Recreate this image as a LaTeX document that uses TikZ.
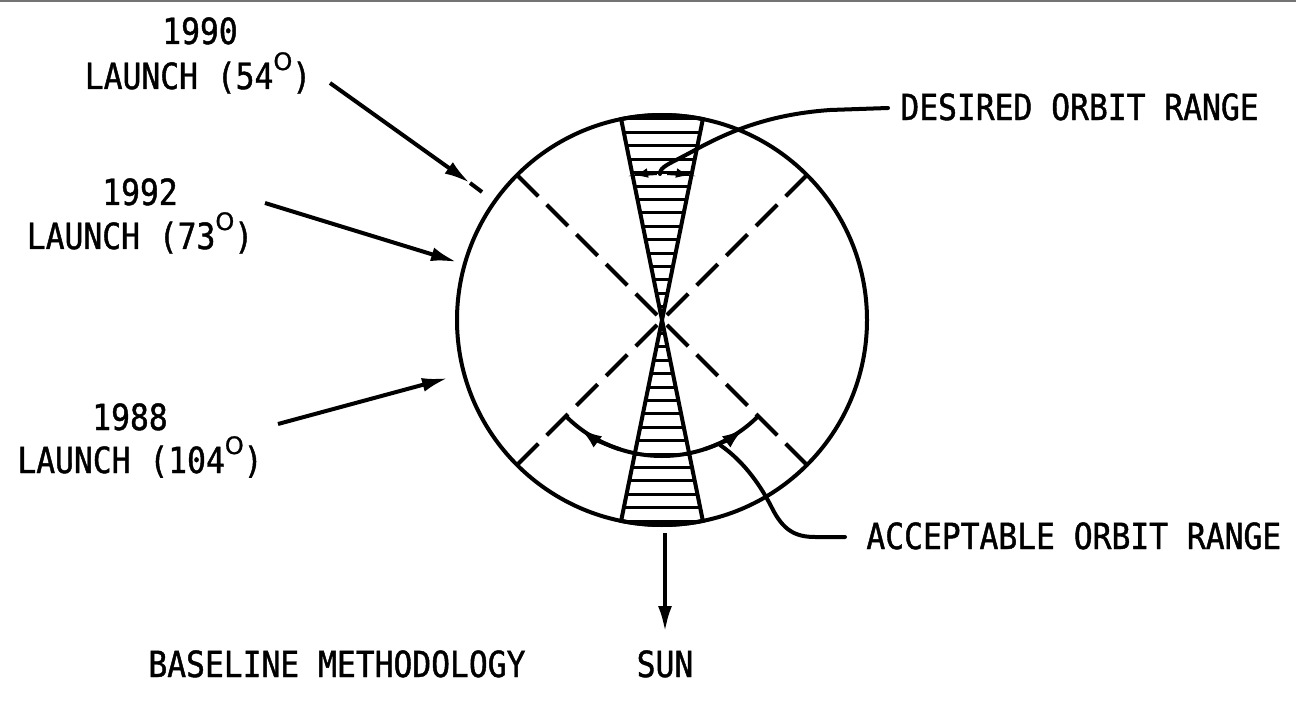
\documentclass[tikz,border=0pt]{standalone}
\usepackage{fontspec}
\newfontfamily\lblfont{DejaVu Sans Mono}[FakeStretch=0.87,FakeBold=1.2]
\newfontfamily\supfont{DejaVu Sans}[FakeBold=1]
\usetikzlibrary{arrows.meta}
\newcommand\degO{\raisebox{9.5pt}{\supfont\fontsize{12}{12}\selectfont O}}
\begin{document}
\begin{tikzpicture}[x=0.5pt,y=-0.5pt,
  lbl/.style={font=\lblfont\fontsize{18}{20}\selectfont, inner sep=0pt},
  outline/.style={line width=2pt},
  hatch/.style={line width=1.5pt},
  dashline/.style={line width=2pt, dash pattern=on 15pt off 6pt},
  arr/.style={line width=2pt, -{Latex[length=13pt,width=7pt]}},
  arcarr/.style={line width=2pt, -{Latex[length=11pt,width=7pt]}},
  smallarr/.style={line width=2pt, -{Latex[length=7pt,width=5pt]}},
  leader/.style={line width=2pt, line cap=round}]
\useasboundingbox (0,0) rectangle (1296,701);
\draw[line width=1.2pt, black!55] (0,1) -- (1296,1);
\coordinate (C) at (662,320);
% circle
\draw[outline] (C) circle[radius=205];
% dashed diagonals
\path (C) +(225:205) coordinate (d1) +(45:205) coordinate (d2)
          +(315:205) coordinate (d3) +(135:205) coordinate (d4);
\draw[dashline] (d1) -- (C);
\draw[dashline] (d2) -- (C);
\draw[dashline] (d3) -- (C);
\draw[dashline] (d4) -- (C);
% top wedge
\begin{scope}
\clip (C) -- +(258.5:205) arc[start angle=258.5, end angle=281.5, radius=205] -- cycle;
\foreach \k in {1,...,15} \draw[hatch] (560,{320-13.4*\k}) -- (760,{320-13.4*\k});
\end{scope}
\draw[outline, line join=miter] (C) -- +(258.5:205) arc[start angle=258.5, end angle=281.5, radius=205] -- cycle;
% bottom wedge
\begin{scope}
\clip (C) -- +(78.5:205) arc[start angle=78.5, end angle=101.5, radius=205] -- cycle;
\foreach \k in {1,...,15} \draw[hatch] (560,{320+13.4*\k}) -- (760,{320+13.4*\k});
\end{scope}
\draw[outline, line join=miter] (C) -- +(78.5:205) arc[start angle=78.5, end angle=101.5, radius=205] -- cycle;
% desired orbit range small arrows
\draw[smallarr] (C) +(268:147) arc[start angle=268, end angle=259, radius=147];
\draw[smallarr] (C) +(272:147) arc[start angle=272, end angle=281, radius=147];
% acceptable orbit range arc
\draw[line width=2pt] (C) +(90:136) arc[start angle=90, end angle=135, radius=136];
\draw[line width=2pt] (C) +(90:136) arc[start angle=90, end angle=45, radius=136];
\draw[arcarr] (C) +(108:136) arc[start angle=108, end angle=127, radius=136];
\draw[arcarr] (C) +(72:136) arc[start angle=72, end angle=53, radius=136];
% labels
\node[lbl, anchor=base] (y1990) at (200,44) {1990};
\node[lbl, anchor=base] (l1990) at (198,89) {LAUNCH (54\degO)};
\node[lbl, anchor=base] (y1992) at (140,205) {1992};
\node[lbl, anchor=base] (l1992) at (140,249) {LAUNCH (73\degO)};
\node[lbl, anchor=base] (y1988) at (130,430) {1988};
\node[lbl, anchor=base] (l1988) at (140,473) {LAUNCH (104\degO)};
\node[lbl, anchor=base west] (desired) at (900,120) {DESIRED ORBIT RANGE};
\node[lbl, anchor=base west] (accept) at (866,549) {ACCEPTABLE ORBIT RANGE};
\node[lbl, anchor=base] (sun) at (665,677) {SUN};
\node[lbl, anchor=base west] (base) at (148,677) {BASELINE METHODOLOGY};
% launch arrows
\coordinate (s90) at (330,83);
\coordinate (t90) at (470,183);
\coordinate (e90) at (482,192);
\draw[arr] (s90) -- (t90);
\draw[line width=2pt] (t90) -- (e90);
\coordinate (s92) at (265,203);
\coordinate (e92) at (457,262);
\draw[arr] (s92) -- (e92);
\coordinate (s88) at (278,424);
\coordinate (e88) at (448,378);
\draw[arr] (s88) -- (e88);
% leaders
\coordinate (dl) at (888,108);
\draw[leader] (dl) -- (830,110) .. controls (775,114) and (735,128) .. (695,150)
   .. controls (670,164) and (660,166) .. (660,174);
\coordinate (al) at (845,537);
\draw[leader] (720,445) .. controls (745,462) and (762,488) .. (772,508)
   .. controls (783,530) and (795,537) .. (815,537) -- (al);
% sun arrow
\coordinate (sunTop) at (665,533);
\coordinate (sunTip) at (665,632);
\draw[arr] (sunTop) -- (sunTip);
\end{tikzpicture}
\end{document}
